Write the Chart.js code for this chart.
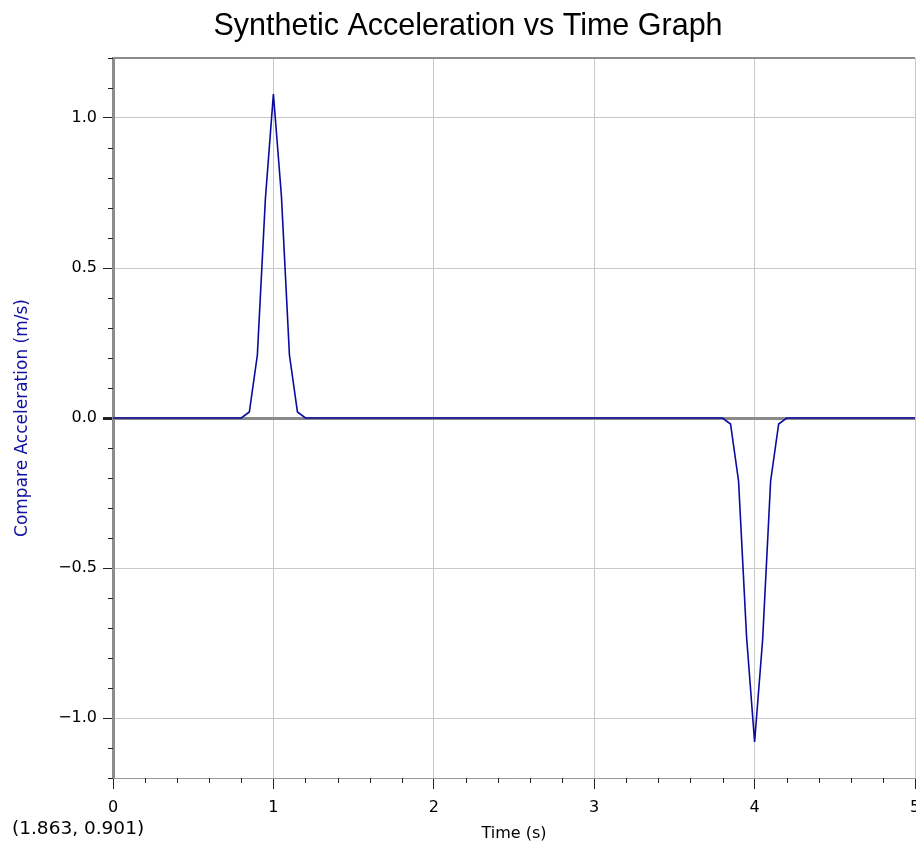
<!DOCTYPE html>
<html>
<head>
<meta charset="utf-8">
<script src="https://cdn.jsdelivr.net/npm/chart.js@4/dist/chart.umd.min.js"></script>
<style>
  html, body { margin: 0; padding: 0; background: #fff; overflow: hidden; }
  #wrap { width: 916px; height: 843px; }
</style>
</head>
<body>
<div id="wrap"><canvas id="chart"></canvas></div>
<script>
// readings
const timeValues = [0, 0.8, 0.85, 0.9, 0.95, 1.0, 1.05, 1.1, 1.15, 1.2,
                    3.8, 3.85, 3.9, 3.95, 4.0, 4.05, 4.1, 4.15, 4.2, 5];
const accelValues = [0, 0, 0.02, 0.21, 0.73, 1.08, 0.74, 0.21, 0.02, 0,
                     0, -0.02, -0.21, -0.73, -1.08, -0.74, -0.21, -0.02, 0, 0];
const xTickValues = [0, 1, 2, 3, 4, 5];
const yTickValues = [-1.0, -0.5, 0.0, 0.5, 1.0];
const chartTitle = 'Synthetic Acceleration vs Time Graph';
const xAxisTitle = 'Time (s)';
const yAxisTitle = 'Compare Acceleration (m/s)';
const cursorReadout = '(1.863, 0.901)';

const tickFont = { family: 'DejaVu Sans', size: 16 };

function fmtY(v) {
  const s = v.toFixed(1);
  return v < 0 ? '\u2212' + s.slice(1) : s;
}

// minor ticks, top frame line, title and cursor readout
const extrasPlugin = {
  id: 'extras',
  afterDraw(chart) {
    const ctx = chart.ctx;
    const area = chart.chartArea;
    const xs = chart.scales.x;
    const ys = chart.scales.y;
    ctx.save();
    ctx.strokeStyle = '#222';
    ctx.lineWidth = 1;
    ctx.beginPath();
    for (let i = 0; i <= 25; i++) {
      if (i % 5 === 0) continue;
      const px = Math.round(xs.getPixelForValue(i * 0.2)) + 0.5;
      ctx.moveTo(px, area.bottom);
      ctx.lineTo(px, area.bottom + 5);
    }
    for (let i = -12; i <= 12; i++) {
      if (i % 5 === 0) continue;
      const py = Math.round(ys.getPixelForValue(i * 0.1)) + 0.5;
      ctx.moveTo(area.left - 5, py);
      ctx.lineTo(area.left, py);
    }
    ctx.stroke();

    ctx.strokeStyle = '#8c8c8c';
    ctx.lineWidth = 2;
    ctx.beginPath();
    ctx.moveTo(area.left, area.top);
    ctx.lineTo(area.right, area.top);
    ctx.stroke();

    ctx.fillStyle = '#000';
    ctx.textAlign = 'center';
    ctx.textBaseline = 'middle';
    ctx.font = '30.5px "Liberation Sans"';
    ctx.fillText(chartTitle, 468, 27);

    ctx.textAlign = 'left';
    ctx.font = '18.5px "DejaVu Sans"';
    ctx.fillText(cursorReadout, 12, 829);
    ctx.restore();
  }
};

new Chart(document.getElementById('chart'), {
  type: 'line',
  data: {
    datasets: [{
      data: timeValues.map((t, i) => ({ x: t, y: accelValues[i] })),
      borderColor: '#0a0aa0',
      borderWidth: 1.6,
      pointRadius: 0,
      tension: 0,
      fill: false
    }]
  },
  options: {
    responsive: true,
    maintainAspectRatio: false,
    animation: false,
    layout: { padding: { top: 58, right: 1, left: 0, bottom: 0 } },
    plugins: {
      legend: { display: false },
      tooltip: { enabled: false },
      title: { display: false }
    },
    scales: {
      x: {
        type: 'linear',
        min: 0,
        max: 5,
        afterBuildTicks: (s) => { s.ticks = xTickValues.map(v => ({ value: v })); },
        afterFit: (s) => { s.paddingRight = 0; s.paddingLeft = 0; s.height = 65; },
        ticks: {
          font: tickFont,
          color: '#000',
          padding: 9,
          maxRotation: 0,
          callback: (v) => String(v)
        },
        grid: {
          color: '#c8c8c8',
          lineWidth: 1,
          tickLength: 11,
          tickColor: '#222'
        },
        border: { color: '#999', width: 1 },
        title: {
          display: true,
          text: xAxisTitle,
          color: '#000',
          font: { family: 'DejaVu Sans', size: 16 },
          padding: { top: 3, bottom: 0 }
        }
      },
      y: {
        type: 'linear',
        min: -1.2,
        max: 1.2,
        afterBuildTicks: (s) => { s.ticks = yTickValues.map(v => ({ value: v })); },
        afterFit: (s) => { s.width = 113; },
        ticks: {
          font: tickFont,
          color: '#000',
          padding: 6,
          callback: (v) => fmtY(v)
        },
        grid: {
          color: (c) => (c.tick && c.tick.value === 0 ? '#8a8a8a' : '#c8c8c8'),
          lineWidth: (c) => (c.tick && c.tick.value === 0 ? 3 : 1),
          tickLength: 10,
          tickColor: '#222'
        },
        border: { color: '#8c8c8c', width: 3 },
        title: {
          display: true,
          text: yAxisTitle,
          color: '#1010a0',
          font: { family: 'DejaVu Sans', size: 17 },
          padding: { top: 12, bottom: 0 }
        }
      }
    }
  },
  plugins: [extrasPlugin]
});
</script>
</body>
</html>
